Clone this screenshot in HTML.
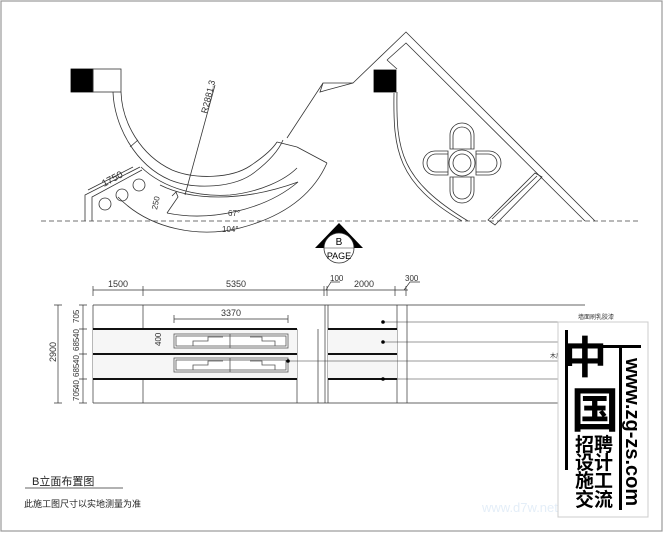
<!DOCTYPE html>
<html><head><meta charset="utf-8"><style>
html,body{margin:0;padding:0;background:#fff;}
svg{display:block;}
text{font-family:"Liberation Sans","Noto Sans CJK SC",sans-serif;}
</style></head><body>
<svg width="667" height="533" viewBox="0 0 667 533" xmlns="http://www.w3.org/2000/svg">
<rect x="0" y="0" width="667" height="533" fill="#fff"/>
<rect x="1" y="1" width="661" height="530" fill="none" stroke="#999" stroke-width="1.2"/>
<g fill="none" stroke="#333" stroke-width="0.8">
<rect x="71" y="69" width="22" height="23" fill="#000" stroke="#000"/>
<rect x="93" y="69" width="28" height="23"/>
<path d="M113 92 C114 125 135 165 170 180 C195 190 235 188 255 172 C268 162 278 152 283 140"/>
<path d="M121 92 C122 122 140 155 172 170 C196 180 232 178 250 166 C262 158 272 150 277 142"/>
<path d="M130 147 L138 140"/><path d="M277 142 L297 147"/>
<path d="M141 167 C165 190 200 197 230 195 C260 192 285 180 297 168"/>
<path d="M160 185 C190 200 240 203 298 182"/>
<path d="M297 147 L327 163"/>
<path d="M167 213 C210 222 265 210 298 182"/>
<path d="M118 197 C150 230 200 238 240 228 C290 215 315 190 327 163"/>
<path d="M172 196 L176 192 L178 197 L167 213"/>
<path d="M85 221 L85 195 L140 167"/>
<path d="M92 221 L92 197 L142 170"/>
<path d="M88 190 L133 167"/>
<circle cx="105" cy="204" r="6"/><circle cx="122" cy="195" r="6"/><circle cx="139" cy="185" r="6"/>
<path d="M185 195 L215 85"/>
<path d="M287 138 L323 83 L353 83 L406 32 L595 221"/>
<path d="M323 83 L320 92 L327 90 L353 83"/>
<path d="M387 60 L406 43 L585 221"/>
<path d="M387 60 L397 69"/>
<rect x="374" y="70" width="22" height="22" fill="#000" stroke="#000"/>
<path d="M397 92 C396 150 400 180 468 221"/>
<path d="M394 93 C393 150 397 183 462 221"/>
<path d="M488 220 L535 173 L542 177 L495 225 Z"/>
<path d="M492 219 L537 176"/>
<circle cx="462" cy="163" r="13"/><circle cx="462" cy="163" r="9"/>
<path d="M450 149 L450 135 A12 12 0 0 1 474 135 L474 149 Z"/>
<path d="M453 149 L453 136 A9 9 0 0 1 471 136 L471 149"/>
<path d="M450 177 L450 191 A12 12 0 0 0 474 191 L474 177 Z"/>
<path d="M453 177 L453 190 A9 9 0 0 0 471 190 L471 177"/>
<path d="M448 151 L435 151 A12 12 0 0 0 435 175 L448 175 Z"/>
<path d="M448 154 L436 154 A9 9 0 0 0 436 172 L448 172"/>
<path d="M476 151 L489 151 A12 12 0 0 1 489 175 L476 175 Z"/>
<path d="M476 154 L488 154 A9 9 0 0 1 488 172 L476 172"/>
</g>
<line x1="41" y1="221" x2="641" y2="221" stroke="#444" stroke-width="0.8" stroke-dasharray="5,3"/>
<g font-size="9" fill="#333">
<text transform="translate(207,114) rotate(-76)">R2881.3</text>
<text transform="translate(104,187) rotate(-28)" font-size="10">1750</text>
<text transform="translate(157,210) rotate(-78)" font-size="8">250</text>
<text x="228" y="216" font-size="8">67°</text>
<text x="222" y="232" font-size="8">104°</text>
</g>
<polygon points="339,223 315,248 363,248" fill="#000"/>
<circle cx="339" cy="248" r="15" fill="#fff" stroke="#333" stroke-width="0.8"/>
<line x1="324" y1="248" x2="354" y2="248" stroke="#333" stroke-width="0.6"/>
<text x="339" y="245" font-size="10" text-anchor="middle" font-family="Liberation Serif,serif">B</text>
<text x="339" y="259" font-size="9" text-anchor="middle" font-family="Liberation Serif,serif">PAGE</text>

<g stroke="#333" stroke-width="0.7" fill="none">
<line x1="93" y1="290" x2="408" y2="290"/>
<path d="M93 286V296 M143 286V296 M324 286V296 M327 286V296 M395 286V296 M406 286V296"/>
<path d="M326 290 L331 282 L340 282 M404 290 L410 282 L420 282"/>
<line x1="93" y1="305" x2="585" y2="305"/>
<line x1="93" y1="403" x2="585" y2="403"/>
<path d="M93 305V403 M143 305V403 M325 305V403 M328 305V403 M397 305V403 M407 305V403 M297 329V403 M318 329V403"/>
<line x1="174" y1="319" x2="288" y2="319"/><path d="M174 315V323 M288 315V323"/>
<path d="M83 305V403 M58 305V403 M79 305H87 M79 329H87 M79 354H87 M79 379H87 M79 403H87 M54 305H62 M54 403H62"/>
<path d="M161 334H167 M161 348H167 M164 334V348"/>
</g>
<rect x="93" y="330" width="204" height="48" fill="#f6f6f6"/>
<rect x="328" y="330" width="69" height="48" fill="#f6f6f6"/>
<g stroke="#111" stroke-width="2">
<path d="M93 329H297 M93 354H297 M93 379H297 M328 329H397 M328 354H397 M328 379H397"/>
</g>
<g stroke="#555" stroke-width="0.8" fill="#fff">
<rect x="174" y="334" width="114" height="14"/><rect x="176" y="336" width="110" height="10" fill="none"/>
<rect x="174" y="358" width="114" height="14"/><rect x="176" y="360" width="110" height="10" fill="none"/>
<path d="M230 334V348 M230 358V372" />
<path d="M193 346V341H208V337H223 M250 337H262V341H275V346" fill="none"/>
<path d="M193 370V365H208V361H223 M250 361H262V365H275V370" fill="none"/>
</g>
<g stroke="#333" stroke-width="0.6">
<line x1="383" y1="322" x2="628" y2="322"/><line x1="383" y1="342" x2="628" y2="342"/>
<line x1="288" y1="361" x2="600" y2="361"/><line x1="383" y1="379" x2="600" y2="379"/>
</g>
<g fill="#000"><circle cx="383" cy="322" r="1.8"/><circle cx="383" cy="342" r="1.8"/><circle cx="288" cy="361" r="1.8"/><circle cx="383" cy="379" r="1.8"/></g>
<g font-size="9" fill="#333">
<text x="108" y="287">1500</text><text x="226" y="287">5350</text>
<text x="330" y="281" font-size="8">100</text><text x="354" y="287">2000</text><text x="405" y="281" font-size="8">300</text>
<text x="221" y="316">3370</text>
<text transform="translate(161,346) rotate(-90)" font-size="8">400</text>
<g font-size="8">
<text transform="translate(79,323) rotate(-90)">705</text>
<text transform="translate(79,338) rotate(-90)">40</text>
<text transform="translate(79,351) rotate(-90)">685</text>
<text transform="translate(79,364) rotate(-90)">40</text>
<text transform="translate(79,377) rotate(-90)">685</text>
<text transform="translate(79,389) rotate(-90)">40</text>
<text transform="translate(79,401) rotate(-90)">705</text>
</g>
<text transform="translate(56,362) rotate(-90)">2900</text>
<text x="578" y="319" font-size="6">墙面刷乳胶漆</text>
<text x="550" y="358" font-size="6">木质</text>
<text x="561" y="376" font-size="6">10mm</text>
</g>
<text x="32" y="485" font-size="11" fill="#222">B立面布置图</text>
<line x1="25" y1="488" x2="123" y2="488" stroke="#333" stroke-width="0.8"/>
<text x="24" y="507" font-size="9" fill="#222">此施工图尺寸以实地测量为准</text>
<text x="482" y="512" font-size="13" fill="#e4eef8">www.d7w.net/forum</text>

<rect x="558" y="322" width="90" height="195" fill="#fff" stroke="#ccc" stroke-width="1"/>
<g fill="#000">
<rect x="565" y="330" width="3" height="140"/>
<rect x="619" y="345" width="3" height="165"/>
<rect x="567" y="345" width="74" height="3"/>
</g>
<text x="563" y="373" font-size="44" font-weight="bold" fill="#000" font-family="Noto Sans CJK SC,sans-serif">中</text>
<text x="571" y="427" font-size="48" font-weight="bold" fill="#000" font-family="Noto Sans CJK SC,sans-serif">国</text>
<g font-size="19" font-weight="bold" fill="#000" font-family="Noto Sans CJK SC,sans-serif">
<text x="575" y="451">招聘</text><text x="575" y="469">设计</text><text x="575" y="487">施工</text><text x="575" y="506">交流</text>
</g>
<text transform="translate(626,358) rotate(90)" font-size="20" font-weight="bold" fill="#000">www.zg-zs.com</text>
</svg>
</body></html>
